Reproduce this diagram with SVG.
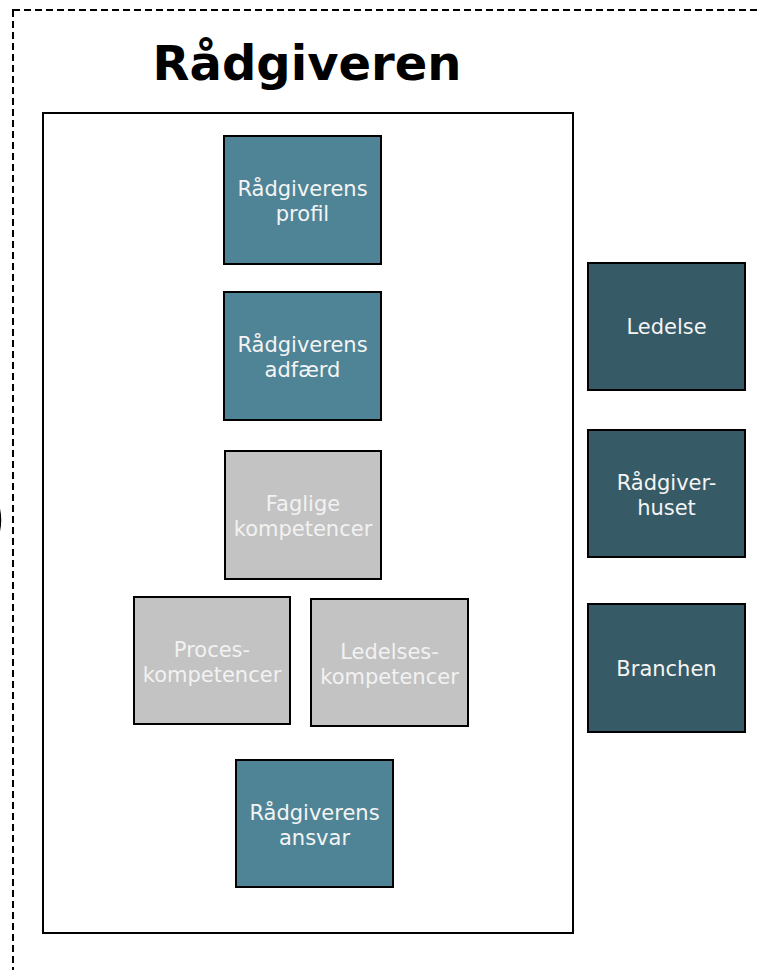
<svg xmlns="http://www.w3.org/2000/svg" width="757" height="970" viewBox="0 0 757 970">
<style>
.box{stroke:#000;stroke-width:2}
.teal{fill:#4F8496}
.gray{fill:#C3C3C3}
.dark{fill:#365A66}
.lbl{font-family:"DejaVu Sans",Verdana,sans-serif;font-size:21px;text-anchor:middle;fill:#F4F4F4}
.glbl{fill:#F2F2F2}
</style>
<rect width="757" height="970" fill="#fff"/>
<rect x="13" y="10" width="780" height="1000" fill="none" stroke="#000" stroke-width="2" stroke-dasharray="7,4"/>
<path d="M-6,494 Q7,520 -6,546" fill="#4F8496" stroke="#000" stroke-width="1.5"/>
<text x="307" y="80" font-family="DejaVu Sans,Verdana,sans-serif" font-weight="bold" font-size="48" text-anchor="middle" fill="#000">Rådgiveren</text>
<g id="container">
<rect x="43" y="113" width="530" height="820" fill="#fff" stroke="#000" stroke-width="2"/>
</g>
<g id="profil"><rect class="box teal" x="224" y="136" width="157" height="128"/><text class="lbl" x="302.5" y="196">Rådgiverens</text><text class="lbl" x="302.5" y="221">profil</text></g>
<g id="adfaerd"><rect class="box teal" x="224" y="292" width="157" height="128"/><text class="lbl" x="302.5" y="352">Rådgiverens</text><text class="lbl" x="302.5" y="377">adfærd</text></g>
<g id="faglige"><rect class="box gray" x="225" y="451" width="156" height="128"/><text class="lbl glbl" x="303" y="511">Faglige</text><text class="lbl glbl" x="303" y="536">kompetencer</text></g>
<g id="proces"><rect class="box gray" x="134" y="597" width="156" height="127"/><text class="lbl glbl" x="212" y="656.5">Proces-</text><text class="lbl glbl" x="212" y="681.5">kompetencer</text></g>
<g id="ledelses"><rect class="box gray" x="311" y="599" width="157" height="127"/><text class="lbl glbl" x="389.5" y="658.5">Ledelses-</text><text class="lbl glbl" x="389.5" y="683.5">kompetencer</text></g>
<g id="ansvar"><rect class="box teal" x="236" y="760" width="157" height="127"/><text class="lbl" x="314.5" y="819.5">Rådgiverens</text><text class="lbl" x="314.5" y="844.5">ansvar</text></g>
<g id="ledelse"><rect class="box dark" x="588" y="263" width="157" height="127"/><text class="lbl" x="666.5" y="334">Ledelse</text></g>
<g id="raadgiverhuset"><rect class="box dark" x="588" y="430" width="157" height="127"/><text class="lbl" x="666.5" y="489.5">Rådgiver-</text><text class="lbl" x="666.5" y="514.5">huset</text></g>
<g id="branchen"><rect class="box dark" x="588" y="604" width="157" height="128"/><text class="lbl" x="666.5" y="675.5">Branchen</text></g>
<g id="connectors"></g>
</svg>
